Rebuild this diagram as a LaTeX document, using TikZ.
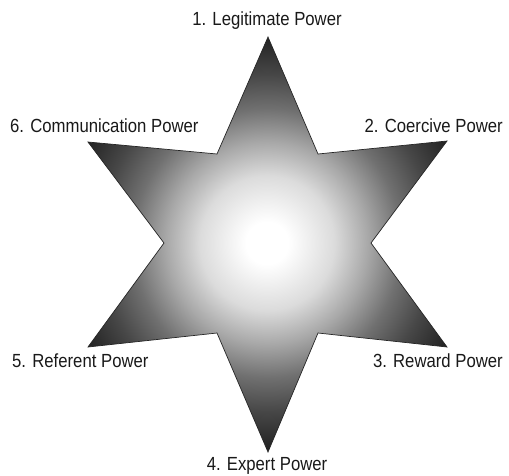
\documentclass[tikz,border=0pt]{standalone}
\usepackage{fontspec}
\setmainfont[FakeStretch=0.88]{Liberation Sans}
\pgfdeclareradialshading{starshade}{\pgfpoint{0bp}{0bp}}{color(0bp)=(white); color(2.5bp)=(white); color(8bp)=(black!14); color(12bp)=(black!34); color(16bp)=(black!56); color(20bp)=(black!72); color(25bp)=(black!88); color(50bp)=(black!88)}
\begin{document}
\begin{tikzpicture}[x=1pt,y=-1pt,
  lbl/.style={inner sep=0pt, font=\fontsize{19}{22}\selectfont, text=black!90},
  starline/.style={draw=black!85, line width=0.7pt, line join=miter}]
\useasboundingbox (0,0) rectangle (509,475);
\def\starpath{(268,37) -- (318,154) -- (447,141) -- (371,243) -- (447,347) -- (318,333)
  -- (268,452) -- (217,333) -- (88,347) -- (164,243) -- (88,142) -- (217,154) -- cycle}
\begin{scope}
  \clip \starpath;
  \shade[shading=starshade] (267,243) circle (210);
\end{scope}
\draw[starline] \starpath;
\node[lbl, anchor=base] (l1) at (267,25) {1. Legitimate Power};
\node[lbl, anchor=base west] (l6) at (10,132) {6. Communication Power};
\node[lbl, anchor=base east] (l2) at (503,132) {2. Coercive Power};
\node[lbl, anchor=base west] (l5) at (12,367) {5. Referent Power};
\node[lbl, anchor=base east] (l3) at (503,367) {3. Reward Power};
\node[lbl, anchor=base] (l4) at (267,470) {4. Expert Power};
\end{tikzpicture}
\end{document}
